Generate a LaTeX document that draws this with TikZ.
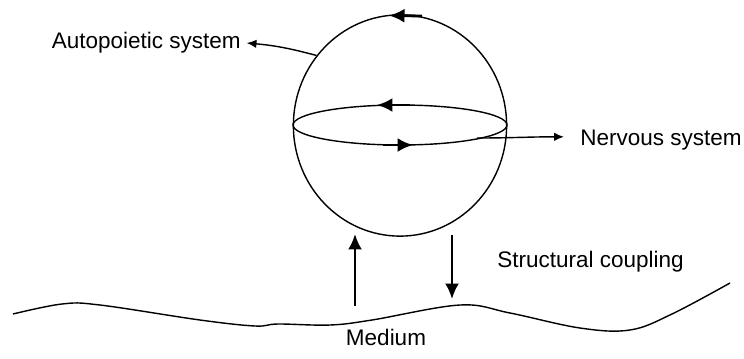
\documentclass[tikz,border=0pt]{standalone}
\usepackage{fontspec}
\setmainfont{Liberation Sans}
\usetikzlibrary{arrows.meta,shapes.geometric}

\begin{document}
\begin{tikzpicture}[x=0.025cm,y=-0.025cm,
  thin line/.style={line width=1pt},
  lbl/.style={inner sep=0pt,font=\fontsize{16}{19}\selectfont},
  ptr/.style={line width=1pt,-{Latex[length=7pt,width=6pt]}},
  flow/.style={line width=1.8pt,-{Latex[length=11pt,width=10pt]}},
  spin/.style={line width=2pt,-{Latex[length=11pt,width=10pt]}}
]
  \useasboundingbox (0,0) rectangle (744,358);
  \node[draw,thin line,ellipse,minimum width=5.33cm,minimum height=5.53cm,
    inner sep=0pt] (sys) at (400,125.5) {};
  \draw[thin line] (400,125) ellipse [x radius=107,y radius=20];
  \node[lbl,anchor=east] (auto) at (241,43) {Autopoietic system};
  \node[lbl,anchor=west] (nerv) at (580,140) {Nervous system};
  \node[lbl,anchor=west] (coup) at (497,262) {Structural coupling};
  \node[lbl] (med) at (386,337) {Medium};
  \coordinate (eqr) at (477,138);
  \coordinate (upb) at (355,306);
  \coordinate (upt) at (355,234);
  \coordinate (dnt) at (452,235);
  \coordinate (dnb) at (452,299);
  \draw[ptr] (sys.140) to[out=165,in=-5] ([xshift=4pt]auto.east);
  \draw[ptr] (eqr) to[out=0,in=180] ([shift={(-0.4cm,0.08cm)}]nerv.west);
  \draw[flow] (upb) -- (upt);
  \draw[flow] (dnt) -- (dnb);
  \draw[spin] (422,16) -- (389,15.5);
  \draw[spin] (410,105) -- (377,105);
  \draw[spin] (383,145) -- (413,145);
  \draw[thin line] plot[smooth,tension=0.6] coordinates {(13,314) (62,304)
    (100,305) (200,320) (255,326) (278,324) (330,325) (372,320) (460,305)
    (510,313) (580,328) (630,330) (672,314) (730,283)};
\end{tikzpicture}
\end{document}
